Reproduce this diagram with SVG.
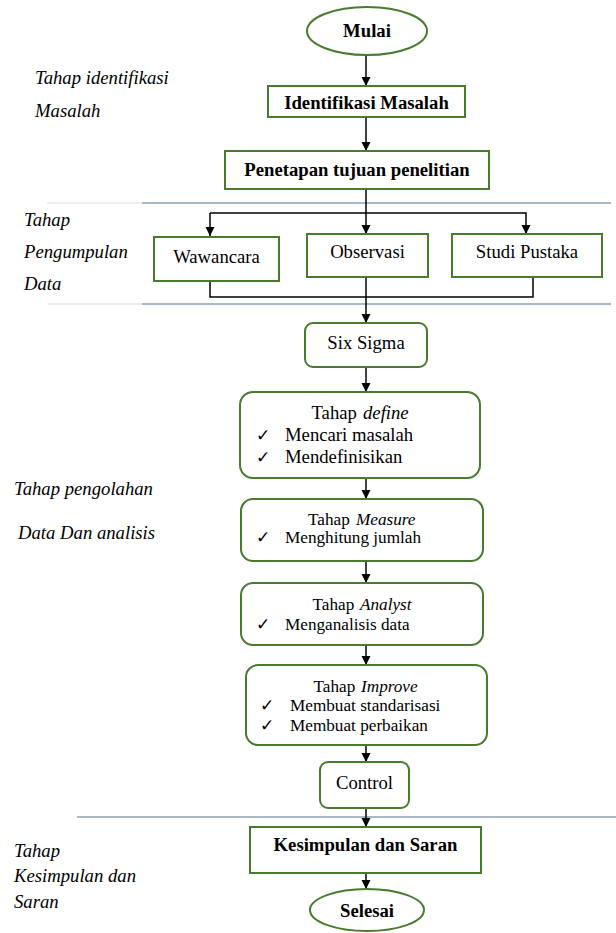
<svg xmlns="http://www.w3.org/2000/svg" width="616" height="933" viewBox="0 0 616 933">
<defs>
<marker id="ah" markerWidth="10" markerHeight="10" refX="9" refY="5" orient="auto" markerUnits="userSpaceOnUse">
<path d="M0,0.5 L9,5 L0,9.5 Z" fill="#000"/>
</marker>
<style>
.box{fill:#fff;stroke:#4a7a30;stroke-width:2}
.t{font-family:"Liberation Serif","Times New Roman",serif;font-size:18.7px;fill:#000}
.s{font-size:17.2px}
.b{font-weight:bold}
.i{font-style:italic}
.c{text-anchor:middle}
.ck{font-family:"DejaVu Sans",sans-serif;font-size:17px;fill:#000}
.con{fill:none;stroke:#000;stroke-width:1.5}
.sep{stroke:#8f9fb2;stroke-width:1.5}
</style>
</defs>
<rect width="616" height="933" fill="#fff"/>

<g id="separators">
<line class="sep" x1="47" y1="203" x2="142" y2="203" style="stroke:#e6e8ec"/>
<line class="sep" x1="142" y1="203" x2="611" y2="203"/>
<line class="sep" x1="47" y1="304" x2="142" y2="304" style="stroke:#e6e8ec"/>
<line class="sep" x1="142" y1="304" x2="611" y2="304"/>
<line class="sep" x1="77" y1="817" x2="616" y2="817"/>
</g>

<g id="labels">
<text class="t i" x="35" y="84">Tahap identifikasi</text>
<text class="t i" x="35" y="117">Masalah</text>
<text class="t i" x="24" y="226">Tahap</text>
<text class="t i" x="24" y="258">Pengumpulan</text>
<text class="t i" x="24" y="290">Data</text>
<text class="t i" x="14" y="495">Tahap pengolahan</text>
<text class="t i" x="18" y="539">Data Dan analisis</text>
<text class="t i" x="14" y="857">Tahap</text>
<text class="t i" x="14" y="882">Kesimpulan dan</text>
<text class="t i" x="14" y="908">Saran</text>
</g>

<g id="connectors">
<line class="con" x1="366" y1="55" x2="366" y2="86" marker-end="url(#ah)"/>
<line class="con" x1="366" y1="117" x2="366" y2="151" marker-end="url(#ah)"/>
<line class="con" x1="366" y1="189" x2="366" y2="234" marker-end="url(#ah)"/>
<polyline class="con" points="210,213 526,213 526,234" marker-end="url(#ah)"/>
<line class="con" x1="210" y1="213" x2="210" y2="236" marker-end="url(#ah)"/>
<polyline class="con" points="210,281 210,297 533,297 533,277"/>
<line class="con" x1="366" y1="277" x2="366" y2="323" marker-end="url(#ah)"/>
<line class="con" x1="366" y1="367" x2="366" y2="392" marker-end="url(#ah)"/>
<line class="con" x1="366" y1="478" x2="366" y2="499" marker-end="url(#ah)"/>
<line class="con" x1="366" y1="561" x2="366" y2="583" marker-end="url(#ah)"/>
<line class="con" x1="366" y1="645" x2="366" y2="665" marker-end="url(#ah)"/>
<line class="con" x1="366" y1="745" x2="366" y2="762" marker-end="url(#ah)"/>
<line class="con" x1="366" y1="808" x2="366" y2="827" marker-end="url(#ah)"/>
<line class="con" x1="366" y1="873" x2="366" y2="889" marker-end="url(#ah)"/>
</g>

<g id="mulai">
<ellipse class="box" cx="367" cy="31" rx="60" ry="24"/>
<text class="t b c" x="367" y="37">Mulai</text>
</g>
<g id="identifikasi">
<rect class="box" x="268" y="86" width="197" height="31"/>
<text class="t b c" x="366.5" y="109">Identifikasi Masalah</text>
</g>
<g id="penetapan">
<rect class="box" x="225" y="151" width="264" height="38"/>
<text class="t b c" x="357" y="176">Penetapan tujuan penelitian</text>
</g>
<g id="wawancara">
<rect class="box" x="154" y="237" width="125" height="44"/>
<text class="t c" x="216.5" y="263">Wawancara</text>
</g>
<g id="observasi">
<rect class="box" x="307" y="234" width="121" height="43"/>
<text class="t c" x="367.5" y="258">Observasi</text>
</g>
<g id="studi">
<rect class="box" x="452" y="234" width="150" height="43"/>
<text class="t c" x="527" y="258">Studi Pustaka</text>
</g>
<g id="sixsigma">
<rect class="box" x="305" y="323" width="122" height="44" rx="8"/>
<text class="t c" x="366" y="349">Six Sigma</text>
</g>
<g id="define">
<rect class="box" x="240" y="392" width="240" height="86" rx="13"/>
<text class="t" x="311.5" y="419">Tahap</text>
<text class="t i" x="363" y="419">define</text>
<text class="ck" x="256" y="441">✓</text>
<text class="t" x="285" y="441">Mencari masalah</text>
<text class="ck" x="256" y="463">✓</text>
<text class="t" x="285" y="463">Mendefinisikan</text>
</g>
<g id="measure">
<rect class="box" x="241" y="499" width="242" height="62" rx="12"/>
<text class="t s" x="308" y="525">Tahap</text>
<text class="t s i" x="356" y="525">Measure</text>
<text class="ck" x="256" y="543">✓</text>
<text class="t s" x="285" y="543">Menghitung jumlah</text>
</g>
<g id="analyst">
<rect class="box" x="241" y="583" width="242" height="62" rx="12"/>
<text class="t s" x="312.5" y="610">Tahap</text>
<text class="t s i" x="360" y="610">Analyst</text>
<text class="ck" x="256" y="630">✓</text>
<text class="t s" x="285" y="630">Menganalisis data</text>
</g>
<g id="improve">
<rect class="box" x="246" y="665" width="241" height="80" rx="12"/>
<text class="t s" x="313.5" y="692">Tahap</text>
<text class="t s i" x="361" y="692">Improve</text>
<text class="ck" x="260" y="711">✓</text>
<text class="t s" x="290" y="711">Membuat standarisasi</text>
<text class="ck" x="260" y="731">✓</text>
<text class="t s" x="290" y="731">Membuat perbaikan</text>
</g>
<g id="control">
<rect class="box" x="320" y="762" width="89" height="46" rx="8"/>
<text class="t c" x="364.5" y="789">Control</text>
</g>
<g id="kesimpulan">
<rect class="box" x="250" y="827" width="231" height="46"/>
<text class="t b c" x="365.5" y="851">Kesimpulan dan Saran</text>
</g>
<g id="selesai">
<ellipse class="box" cx="367" cy="910" rx="57" ry="21"/>
<text class="t b c" x="367" y="917">Selesai</text>
</g>
</svg>
